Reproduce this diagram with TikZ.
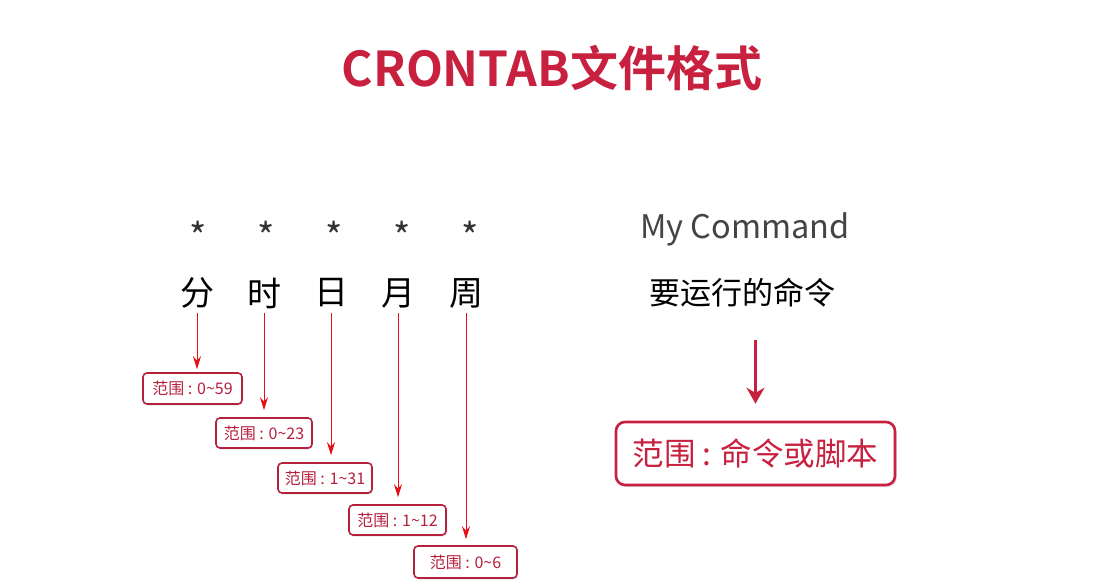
\documentclass[tikz,border=0pt]{standalone}
\usepackage{fontspec}
\setmainfont{Noto Sans CJK SC}
\newfontfamily\cjkb{Noto Sans CJK SC Bold}
\usetikzlibrary{arrows.meta,shadows}
\definecolor{crim}{HTML}{C8203F}
\definecolor{boxred}{HTML}{B5203C}
\definecolor{arrred}{HTML}{E81018}
\definecolor{darkg}{HTML}{333333}
\definecolor{cmdg}{HTML}{444444}
\tikzset{
  fieldlab/.style={font=\fontsize{34}{40}\selectfont, text=black, inner sep=0pt, minimum height=40pt},
  starlab/.style={font=\fontsize{37}{40}\selectfont, text=darkg, inner sep=0pt},
  rangebox/.style={draw=boxred, line width=1.6pt, rounded corners=4pt, fill=white, text=boxred,
    font=\fontsize{16}{18}\selectfont, inner sep=0pt, minimum height=30pt,
    drop shadow={opacity=0.2, shadow xshift=1pt, shadow yshift=-1.5pt}},
  smallarrow/.style={draw=arrred, line width=1pt, -{Stealth[length=13pt,width=8pt]}},
  bigarrow/.style={draw=crim, line width=3pt, -{Stealth[length=16pt,width=18pt]}},
}
\begin{document}
\begin{tikzpicture}[x=1pt,y=-1pt]
\useasboundingbox[fill=white] (0,0) rectangle (1104,588);
% title
\node[text=crim, font=\cjkb\fontsize{48}{54}\selectfont, inner sep=0pt] (title) at (552,68) {CRONTAB文件格式};
% stars
\node[starlab] (s1) at (198,236) {*};
\node[starlab] (s2) at (266,236) {*};
\node[starlab] (s3) at (334,236) {*};
\node[starlab] (s4) at (402,236) {*};
\node[starlab] (s5) at (470,236) {*};
% field labels
\node[fieldlab] (l1) at (197,293) {分};
\node[fieldlab] (l2) at (264,293) {时};
\node[fieldlab] (l3) at (331,293) {日};
\node[fieldlab] (l4) at (398,293) {月};
\node[fieldlab] (l5) at (466,293) {周};
% command
\node[text=cmdg, font=\fontsize{32.5}{36}\selectfont, inner sep=0pt] (cmd) at (745,229) {My Command};
\node[text=black, font=\fontsize{31}{36}\selectfont, inner sep=0pt, minimum height=40pt] (run) at (742,293) {要运行的命令};
% range boxes
\node[rangebox, minimum width=99pt, minimum height=31pt] (b1) at (192.5,388.5) {范围 : 0\textasciitilde 59};
\node[rangebox, minimum width=96pt] (b2) at (264,433) {范围 : 0\textasciitilde 23};
\node[rangebox, minimum width=94pt] (b3) at (325,478) {范围 : 1\textasciitilde 31};
\node[rangebox, minimum width=97pt] (b4) at (397.5,520) {范围 : 1\textasciitilde 12};
\node[rangebox, minimum width=103pt, minimum height=32pt] (b5) at (465.5,562) {范围 : 0\textasciitilde 6};
% arrows
\draw[smallarrow, shorten >=3pt] (l1.south) -- (l1.south |- b1.north);
\draw[smallarrow, shorten >=7pt] (l2.south) -- (l2.south |- b2.north);
\draw[smallarrow, shorten >=7pt] (l3.south) -- (l3.south |- b3.north);
\draw[smallarrow, shorten >=7pt] (l4.south) -- (l4.south |- b4.north);
\draw[smallarrow, shorten >=6pt] (l5.south) -- (l5.south |- b5.north);
% big box
\node[draw=crim, line width=2.6pt, rounded corners=9pt, fill=white, text=crim,
  font=\fontsize{31.5}{36}\selectfont, minimum width=279pt, minimum height=63pt, inner sep=0pt,
  drop shadow={opacity=0.25, shadow xshift=1.5pt, shadow yshift=-2pt}] (big) at (755.5,453.5) {范围 : 命令或脚本};
\draw[bigarrow, shorten <=27pt, shorten >=17pt] (run.south -| big.north) -- (big.north);
\end{tikzpicture}
\end{document}
